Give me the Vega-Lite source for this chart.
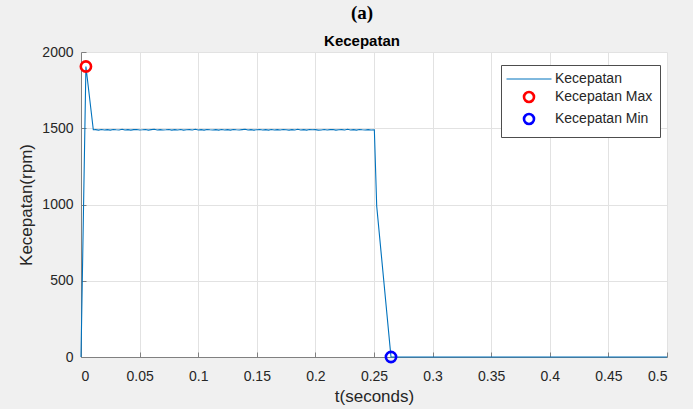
{
  "$schema": "https://vega.github.io/schema/vega-lite/v6.json",
  "autosize": {"type": "none"},
  "width": 586,
  "height": 305,
  "padding": {"left": 81, "top": 52, "right": 26, "bottom": 52},
  "background": "#f0f0f0",
  "title": {
    "text": "(a)",
    "subtitle": "Kecepatan",
    "anchor": "middle",
    "dx": -12,
    "font": "Liberation Serif",
    "fontSize": 19,
    "fontWeight": "bold",
    "color": "#000000",
    "subtitleFont": "Liberation Sans",
    "subtitleFontSize": 15,
    "subtitleFontWeight": "bold",
    "subtitleColor": "#000000",
    "subtitlePadding": 11,
    "offset": -4
  },
  "datasets": {
    "speed": [
      {"t": 0, "rpm": 0},
      {"t": 0.0042, "rpm": 1905},
      {"t": 0.0105, "rpm": 1490},
      {"t": 0.0125, "rpm": 1491}, {"t": 0.015, "rpm": 1488}, {"t": 0.0175, "rpm": 1492}, {"t": 0.02, "rpm": 1489}, {"t": 0.0225, "rpm": 1491},
      {"t": 0.025, "rpm": 1488}, {"t": 0.0275, "rpm": 1492}, {"t": 0.03, "rpm": 1490}, {"t": 0.0325, "rpm": 1489}, {"t": 0.035, "rpm": 1493},
      {"t": 0.0375, "rpm": 1489}, {"t": 0.04, "rpm": 1491}, {"t": 0.0425, "rpm": 1488}, {"t": 0.045, "rpm": 1491}, {"t": 0.0475, "rpm": 1492},
      {"t": 0.05, "rpm": 1489}, {"t": 0.0525, "rpm": 1490}, {"t": 0.055, "rpm": 1492}, {"t": 0.0575, "rpm": 1488}, {"t": 0.06, "rpm": 1491},
      {"t": 0.0625, "rpm": 1493}, {"t": 0.065, "rpm": 1489}, {"t": 0.0675, "rpm": 1491}, {"t": 0.07, "rpm": 1489}, {"t": 0.0725, "rpm": 1490},
      {"t": 0.075, "rpm": 1492}, {"t": 0.0775, "rpm": 1488}, {"t": 0.08, "rpm": 1491}, {"t": 0.0825, "rpm": 1489}, {"t": 0.085, "rpm": 1492},
      {"t": 0.0875, "rpm": 1488}, {"t": 0.09, "rpm": 1490}, {"t": 0.0925, "rpm": 1491}, {"t": 0.095, "rpm": 1489}, {"t": 0.0975, "rpm": 1493},
      {"t": 0.1, "rpm": 1489}, {"t": 0.1025, "rpm": 1491}, {"t": 0.105, "rpm": 1488}, {"t": 0.1075, "rpm": 1492}, {"t": 0.11, "rpm": 1490},
      {"t": 0.1125, "rpm": 1489}, {"t": 0.115, "rpm": 1491}, {"t": 0.1175, "rpm": 1488}, {"t": 0.12, "rpm": 1492}, {"t": 0.1225, "rpm": 1489},
      {"t": 0.125, "rpm": 1491}, {"t": 0.1275, "rpm": 1488}, {"t": 0.13, "rpm": 1492}, {"t": 0.1325, "rpm": 1490}, {"t": 0.135, "rpm": 1489},
      {"t": 0.1375, "rpm": 1491}, {"t": 0.14, "rpm": 1493}, {"t": 0.1425, "rpm": 1489}, {"t": 0.145, "rpm": 1491}, {"t": 0.1475, "rpm": 1488},
      {"t": 0.15, "rpm": 1490}, {"t": 0.1525, "rpm": 1492}, {"t": 0.155, "rpm": 1489}, {"t": 0.1575, "rpm": 1491}, {"t": 0.16, "rpm": 1488},
      {"t": 0.1625, "rpm": 1492}, {"t": 0.165, "rpm": 1489}, {"t": 0.1675, "rpm": 1491}, {"t": 0.17, "rpm": 1489}, {"t": 0.1725, "rpm": 1492},
      {"t": 0.175, "rpm": 1490}, {"t": 0.1775, "rpm": 1488}, {"t": 0.18, "rpm": 1491}, {"t": 0.1825, "rpm": 1489}, {"t": 0.185, "rpm": 1493},
      {"t": 0.1875, "rpm": 1489}, {"t": 0.19, "rpm": 1491}, {"t": 0.1925, "rpm": 1488}, {"t": 0.195, "rpm": 1492}, {"t": 0.1975, "rpm": 1490},
      {"t": 0.2, "rpm": 1491}, {"t": 0.2025, "rpm": 1488}, {"t": 0.205, "rpm": 1489}, {"t": 0.2075, "rpm": 1492}, {"t": 0.21, "rpm": 1489},
      {"t": 0.2125, "rpm": 1491}, {"t": 0.215, "rpm": 1492}, {"t": 0.2175, "rpm": 1488}, {"t": 0.22, "rpm": 1490}, {"t": 0.2225, "rpm": 1491},
      {"t": 0.225, "rpm": 1489}, {"t": 0.2275, "rpm": 1493}, {"t": 0.23, "rpm": 1489}, {"t": 0.2325, "rpm": 1491}, {"t": 0.235, "rpm": 1488},
      {"t": 0.2375, "rpm": 1492}, {"t": 0.24, "rpm": 1490}, {"t": 0.2425, "rpm": 1489}, {"t": 0.245, "rpm": 1491}, {"t": 0.2475, "rpm": 1489},
      {"t": 0.2503, "rpm": 1490},
      {"t": 0.2523, "rpm": 990},
      {"t": 0.2645, "rpm": 0},
      {"t": 0.5, "rpm": 0}
    ],
    "extrema": [
      {"t": 0.0042, "rpm": 1905, "series": "Kecepatan Max"},
      {"t": 0.2645, "rpm": 0, "series": "Kecepatan Min"}
    ]
  },
  "encoding": {
    "x": {
      "field": "t",
      "type": "quantitative",
      "scale": {"domain": [0, 0.5], "nice": false, "zero": false},
      "axis": {
        "title": "t(seconds)",
        "values": [0, 0.05, 0.1, 0.15, 0.2, 0.25, 0.3, 0.35, 0.4, 0.45, 0.5],
        "format": "~g",
        "labelPadding": 17,
        "titlePadding": 5
      }
    },
    "y": {
      "field": "rpm",
      "type": "quantitative",
      "scale": {"domain": [0, 2000], "nice": false},
      "axis": {
        "title": "Kecepatan(rpm)",
        "values": [0, 500, 1000, 1500, 2000],
        "format": "d",
        "labelPadding": 13,
        "titlePadding": 6
      }
    },
    "color": {
      "field": "series",
      "type": "nominal",
      "scale": {
        "domain": ["Kecepatan", "Kecepatan Max", "Kecepatan Min"],
        "range": ["#0072BD", "#FF0000", "#0000FF"]
      },
      "legend": {
        "title": null,
        "orient": "none",
        "legendX": 420,
        "legendY": 13,
        "fillColor": "#ffffff",
        "strokeColor": "#4d4d4d",
        "padding": 7,
        "rowPadding": 0,
        "symbolSize": 100,
        "symbolOffset": 14,
        "labelOffset": 19,
        "labelFontSize": 14,
        "labelColor": "#262626",
        "labelFont": "Liberation Sans",
        "encode": {
          "symbols": {
            "update": {
              "shape": {"signal": "datum.value === 'Kecepatan' ? 'M-4.5,0H4.5' : 'circle'"},
              "strokeWidth": {"signal": "datum.value === 'Kecepatan' ? 1 : 2.6"},
              "fill": {"value": "transparent"}
            }
          }
        }
      }
    }
  },
  "layer": [
    {
      "data": {"name": "speed"},
      "mark": {"type": "line", "strokeWidth": 1.1, "color": "#0072BD"},
      "encoding": {
        "color": {"datum": "Kecepatan"}
      }
    },
    {
      "data": {"name": "extrema"},
      "mark": {"type": "point", "filled": false, "strokeWidth": 2.6, "size": 105, "opacity": 1, "clip": false}
    }
  ],
  "config": {
    "font": "Liberation Sans",
    "view": {"fill": "#ffffff", "stroke": null},
    "axis": {
      "grid": true,
      "gridColor": "#e2e2e2",
      "gridWidth": 1,
      "domainColor": "#808080",
      "domainWidth": 1,
      "tickColor": "#808080",
      "tickSize": -5,
      "tickWidth": 1,
      "labelColor": "#262626",
      "labelFontSize": 14,
      "labelFont": "Liberation Sans",
      "titleColor": "#262626",
      "titleFontSize": 17,
      "titleFont": "Liberation Sans",
      "titleFontWeight": "normal"
    }
  }
}
